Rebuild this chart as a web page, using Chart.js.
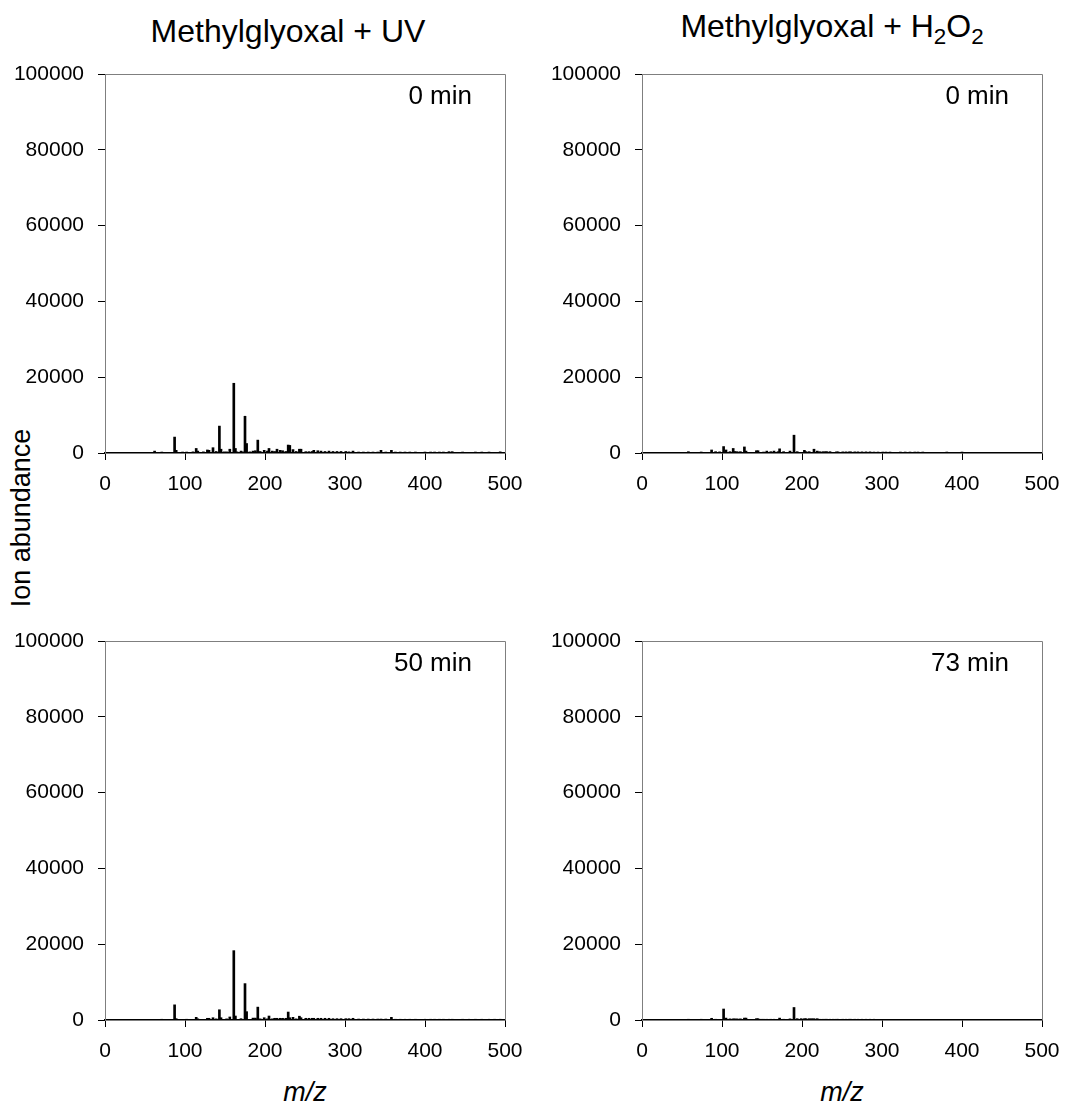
<!DOCTYPE html>
<html>
<head>
<meta charset="utf-8">
<script src="https://cdn.jsdelivr.net/npm/chart.js@4/dist/chart.umd.min.js"></script>
<style>
  html, body { margin: 0; padding: 0; background: #fff; overflow: hidden; }
  body { width: 1065px; height: 1106px; position: relative; font-family: "Liberation Sans", Arial, sans-serif; color: #000; }
  canvas { position: absolute; }
  .lbl { position: absolute; white-space: nowrap; line-height: 1; }
  sub { font-size: 70%; vertical-align: -0.3em; line-height: 0; }
</style>
</head>
<body>
<div class="lbl" style="font-size:32px; left:288px; top:31px; transform:translate(-50%,-50%);">Methylglyoxal + UV</div>
<div class="lbl" style="font-size:32px; left:832px; top:26px; transform:translate(-50%,-50%);">Methylglyoxal + H<sub>2</sub>O<sub>2</sub></div>
<div class="lbl" style="font-size:27px; left:21px; top:518px; transform:translate(-50%,-50%) rotate(-90deg);">Ion abundance</div>
<div class="lbl" style="font-size:27px; font-style:italic; left:305px; top:1092px; transform:translate(-50%,-50%);">m/z</div>
<div class="lbl" style="font-size:27px; font-style:italic; left:842px; top:1092px; transform:translate(-50%,-50%);">m/z</div>

<canvas id="uv0" width="528" height="446" style="left:0; top:54px;"></canvas>
<canvas id="h0" width="528" height="446" style="left:537px; top:54px;"></canvas>
<canvas id="uv50" width="528" height="446" style="left:0; top:621px;"></canvas>
<canvas id="h73" width="528" height="446" style="left:537px; top:621px;"></canvas>

<script>
// m/z positions of the peaks (shared by all four spectra)
const mzValues = [
  58, 62, 71, 74, 87, 89, 92, 97, 102, 105,
  110, 114, 116, 119, 123, 128, 130, 135, 139, 143,
  145, 149, 152, 156, 161, 163, 165, 170, 172, 175,
  177, 181, 185, 188, 190, 191, 194, 199, 203, 205,
  209, 212, 215, 219, 222, 226, 229, 231, 235, 239,
  243, 245, 251, 255, 259, 261, 266, 270, 275, 280,
  285, 290, 295, 301, 305, 310, 317, 323, 329, 335,
  341, 345, 351, 358, 363, 369, 375, 381, 388, 395,
  400, 407, 412, 418, 423, 430, 434, 441, 447, 455,
  463, 471, 480, 487, 494
];

// ion abundance, methylglyoxal + UV, 0 min
const uv0 = [
  0, 500, 250, 0, 4200, 700, 0, 250, 250, 0,
  300, 1200, 500, 0, 300, 800, 700, 1400, 400, 7100,
  1000, 300, 300, 1000, 18400, 1200, 300, 500, 300, 9700,
  2500, 300, 500, 600, 0, 3400, 400, 700, 500, 1200,
  500, 400, 1000, 700, 600, 400, 2100, 2000, 900, 400,
  1000, 1000, 350, 350, 400, 700, 600, 500, 400, 500,
  400, 400, 400, 400, 300, 500, 250, 250, 250, 250,
  250, 700, 250, 700, 250, 250, 250, 250, 250, 0,
  250, 250, 250, 250, 250, 350, 350, 0, 250, 0,
  250, 250, 250, 0, 300
];

// ion abundance, methylglyoxal + H2O2, 0 min
const h2o2_0 = [
  350, 0, 0, 260, 800, 0, 350, 300, 1700, 800,
  350, 1200, 400, 350, 350, 1600, 500, 0, 0, 600,
  600, 0, 250, 500, 350, 0, 500, 350, 1100, 0,
  350, 0, 500, 0, 4700, 0, 350, 0, 700, 350,
  350, 0, 1000, 500, 350, 350, 350, 350, 350, 0,
  300, 300, 300, 300, 300, 300, 300, 300, 300, 300,
  300, 250, 250, 250, 250, 250, 0, 250, 250, 250,
  250, 250, 250, 0, 0, 0, 0, 250, 0, 0,
  250, 0, 150, 0, 150, 0, 0, 0, 150, 0,
  0, 0, 0, 0, 0
];

// ion abundance, methylglyoxal + UV, 50 min
const uv50 = [
  0, 0, 200, 0, 4000, 350, 0, 0, 200, 0,
  0, 700, 300, 0, 0, 450, 450, 600, 300, 2700,
  600, 0, 300, 800, 18300, 1050, 0, 350, 0, 9600,
  2200, 0, 500, 500, 0, 3400, 300, 600, 300, 1050,
  300, 450, 450, 450, 450, 450, 2100, 600, 700, 300,
  1000, 600, 450, 450, 450, 450, 450, 450, 450, 450,
  350, 350, 350, 350, 350, 450, 250, 250, 250, 250,
  250, 250, 250, 700, 200, 200, 200, 200, 200, 0,
  200, 200, 200, 200, 200, 200, 200, 0, 200, 200,
  200, 200, 200, 200, 200
];

// ion abundance, methylglyoxal + H2O2, 73 min
const h2o2_73 = [
  200, 0, 0, 200, 450, 0, 200, 0, 2900, 500,
  300, 300, 300, 300, 300, 500, 500, 0, 0, 350,
  350, 200, 200, 200, 200, 0, 200, 0, 500, 0,
  200, 0, 300, 0, 3300, 0, 350, 350, 350, 350,
  350, 350, 350, 350, 200, 200, 200, 200, 200, 200,
  200, 200, 200, 200, 200, 200, 200, 200, 200, 200,
  200, 200, 100, 100, 100, 100, 100, 100, 100, 100,
  100, 100, 100, 100, 100, 0, 100, 0, 100, 0,
  100, 0, 100, 0, 100, 0, 0, 100, 0, 100,
  100, 0, 0, 0, 0
];

const xTicks = [0, 100, 200, 300, 400, 500];
const yTicks = [0, 20000, 40000, 60000, 80000, 100000];

Chart.defaults.font.family = '"Liberation Sans", Arial, sans-serif';
Chart.defaults.color = '#000';

// grey box on top/right plus the time label in the corner
const frame = {
  id: 'frame',
  afterDraw(chart, args, opts) {
    const a = chart.chartArea, ctx = chart.ctx;
    ctx.save();
    ctx.strokeStyle = '#7f7f7f';
    ctx.lineWidth = 1;
    ctx.beginPath();
    ctx.moveTo(a.left, a.top + 0.5);
    ctx.lineTo(a.right + 0.5, a.top + 0.5);
    ctx.lineTo(a.right + 0.5, a.bottom);
    ctx.stroke();
    ctx.fillStyle = '#000';
    ctx.font = '26px "Liberation Sans", Arial, sans-serif';
    ctx.textAlign = 'right';
    ctx.textBaseline = 'middle';
    ctx.fillText(opts.text, a.right - 33, a.top + 23);
    ctx.restore();
  }
};

function spectrum(id, values, label) {
  new Chart(document.getElementById(id), {
    type: 'bar',
    data: {
      datasets: [{
        data: mzValues.map((m, i) => ({ x: m, y: values[i] })),
        backgroundColor: '#000',
        barThickness: 2
      }]
    },
    options: {
      responsive: false,
      animation: false,
      layout: { padding: { top: 20, right: 23, left: 0, bottom: 0 } },
      plugins: { legend: { display: false }, tooltip: { enabled: false }, frame: { text: label } },
      scales: {
        x: {
          type: 'linear', min: 0, max: 500, offset: false,
          afterFit: s => { s.height = 47; s.paddingLeft = 0; s.paddingRight = 0; },
          afterBuildTicks: s => { s.ticks = xTicks.map(v => ({ value: v })); },
          grid: { display: true, drawOnChartArea: false, drawTicks: true, tickLength: 7, color: '#000', offset: false },
          border: { color: '#000', width: 1.5 },
          ticks: { font: { size: 21 }, padding: 12, maxRotation: 0, autoSkip: false, callback: v => String(v) }
        },
        y: {
          min: 0, max: 100000,
          afterFit: s => { s.width = 105; s.paddingTop = 0; s.paddingBottom = 0; },
          afterBuildTicks: s => { s.ticks = yTicks.map(v => ({ value: v })); },
          grid: { display: true, drawOnChartArea: false, drawTicks: true, tickLength: 7, color: '#000' },
          border: { color: '#7f7f7f', width: 1 },
          ticks: { font: { size: 21 }, padding: 14, autoSkip: false, callback: v => String(v) }
        }
      }
    },
    plugins: [frame]
  });
}

spectrum('uv0', uv0, '0 min');
spectrum('h0', h2o2_0, '0 min');
spectrum('uv50', uv50, '50 min');
spectrum('h73', h2o2_73, '73 min');
</script>
</body>
</html>
